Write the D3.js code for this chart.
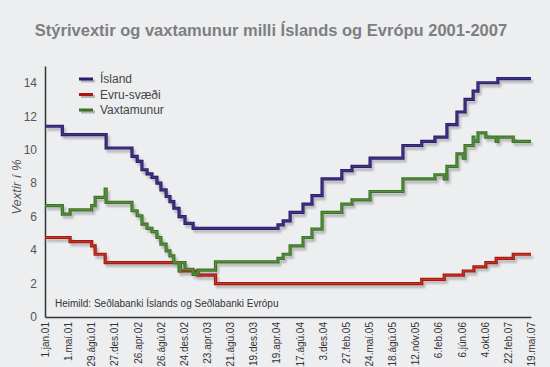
<!DOCTYPE html>
<html>
<head>
<meta charset="utf-8">
<script src="https://cdn.jsdelivr.net/npm/d3@7"></script>
<style>
  body { margin: 0; background: #edeef0; }
  svg { font-family: "Liberation Sans", Arial, sans-serif; }
</style>
</head>
<body>
<div id="chart"></div>
<script>
// tick positions on the category axis (equal spacing in the original)
var tickDates = ["2001-01-01","2001-05-01","2001-08-29","2001-12-27","2002-04-26","2002-08-26",
  "2002-12-24","2003-04-23","2003-08-21","2003-12-19","2004-04-19","2004-08-17","2004-12-03",
  "2005-02-27","2005-05-24","2005-08-18","2005-11-12","2006-02-06","2006-06-06","2006-10-04",
  "2007-02-22","2007-05-19"];
var tickLabels = ["1.jan.01","1.maí.01","29.ágú.01","27.des.01","26.apr.02","26.ágú.02",
  "24.des.02","23.apr.03","21.ágú.03","19.des.03","19.apr.04","17.ágú.04","3.des.04",
  "27.feb.05","24.maí.05","18.ágú.05","12.nóv.05","6.feb.06","6.jún.06","4.okt.06",
  "22.feb.07","19.maí.07"];

// Ísland - stýrivextir
var island = [
  ["2001-01-01",11.4],["2001-04-01",10.9],["2001-11-14",10.1],["2002-03-28",9.6],
  ["2002-04-24",9.3],["2002-05-19",8.8],["2002-06-15",8.55],["2002-07-11",8.35],
  ["2002-08-06",8.0],["2002-08-27",7.6],["2002-09-23",7.2],["2002-10-13",6.9],
  ["2002-11-02",6.5],["2002-11-29",6.0],["2002-12-30",5.6],["2003-02-10",5.3],
  ["2004-04-27",5.5],["2004-05-24",5.75],["2004-06-29",6.25],["2004-09-02",6.75],
  ["2004-10-14",7.25],["2004-11-30",8.25],["2005-02-12",8.75],["2005-03-22",9.0],
  ["2005-05-28",9.5],["2005-09-27",10.25],["2005-12-06",10.5],["2006-01-24",10.75],
  ["2006-03-22",11.5],["2006-05-13",12.25],["2006-06-24",13.0],["2006-08-05",13.5],
  ["2006-08-30",14.0],["2006-12-23",14.25],["2007-05-19",14.25]
];

// Evru-svæði
var euro = [
  ["2001-01-01",4.75],["2001-05-11",4.5],["2001-08-31",4.25],["2001-09-18",3.75],
  ["2001-11-09",3.25],["2002-12-06",2.75],["2003-03-07",2.5],["2003-06-06",2.0],
  ["2005-12-06",2.25],["2006-03-08",2.5],["2006-06-15",2.75],["2006-08-09",3.0],
  ["2006-10-11",3.25],["2006-12-13",3.5],["2007-03-14",3.75],["2007-05-19",3.75]
];

// Vaxtamunur
var spread = [
  ["2001-01-01",6.65],["2001-04-01",6.15],["2001-05-11",6.4],["2001-08-31",6.65],
  ["2001-09-18",7.15],["2001-11-09",7.65],["2001-11-14",6.85],["2002-03-28",6.35],
  ["2002-04-24",6.05],["2002-05-19",5.55],["2002-06-15",5.3],["2002-07-11",5.1],
  ["2002-08-06",4.75],["2002-08-27",4.35],["2002-09-23",3.95],["2002-10-13",3.65],
  ["2002-11-02",3.25],["2002-11-29",2.75],["2002-12-06",3.25],["2002-12-30",2.85],
  ["2003-02-10",2.55],["2003-03-07",2.8],["2003-06-06",3.3],["2004-04-27",3.5],
  ["2004-05-24",3.75],["2004-06-29",4.25],["2004-09-02",4.75],["2004-10-14",5.25],
  ["2004-11-30",6.25],["2005-02-12",6.75],["2005-03-22",7.0],["2005-05-28",7.5],
  ["2005-09-27",8.25],["2006-01-24",8.5],["2006-03-08",8.25],["2006-03-22",9.0],
  ["2006-05-13",9.75],["2006-06-15",9.5],["2006-06-24",10.25],["2006-08-05",10.75],
  ["2006-08-09",10.5],["2006-08-30",11.0],["2006-10-11",10.75],["2006-12-13",10.5],
  ["2006-12-23",10.75],["2007-03-14",10.5],["2007-05-19",10.5]
];

var yTicks = [0,2,4,6,8,10,12,14];

var svgWidth = 550, svgHeight = 367;
var plotLeft = 45, plotRight = 531, plotTop = 66, plotBottom = 317;

var parse = d3.timeParse("%Y-%m-%d");

var svg = d3.select("#chart").append("svg")
  .attr("width", svgWidth)
  .attr("height", svgHeight);

svg.append("rect").attr("width", svgWidth).attr("height", svgHeight).attr("fill", "#edeef0");

var defs = svg.append("defs");
defs.append("filter").attr("id", "blur")
  .append("feGaussianBlur").attr("stdDeviation", 0.8);

// piecewise time scale so that the category ticks are evenly spaced
var tickPos = tickDates.map(function(d, i) { return plotLeft + i * (plotRight - plotLeft) / (tickDates.length - 1); });
var x = d3.scaleTime()
  .domain(tickDates.map(parse))
  .range(tickPos);

var y = d3.scaleLinear()
  .domain([0, 15])
  .range([plotBottom, plotTop]);

//title
svg.append("text")
  .attr("x", 271).attr("y", 36)
  .attr("text-anchor", "middle")
  .style("font-size", "16.5px").style("font-weight", "bold")
  .style("fill", "#7d7e82")
  .text("Stýrivextir og vaxtamunur milli Íslands og Evrópu 2001-2007");

//axes
var yAxis = d3.axisLeft(y).tickValues(yTicks).tickSize(0).tickPadding(8);
var gy = svg.append("g").attr("transform", "translate(" + plotLeft + ",0)").call(yAxis);
gy.select(".domain").attr("stroke", "#333").attr("stroke-width", 1.5);
gy.selectAll("text").style("font-size", "12px").style("fill", "#555");

var xAxis = d3.axisBottom(x)
  .tickValues(tickDates.map(parse))
  .tickFormat(function(d, i) { return tickLabels[i]; })
  .tickSize(0);
var gx = svg.append("g").attr("transform", "translate(0," + plotBottom + ")").call(xAxis);
gx.select(".domain").attr("stroke", "#333").attr("stroke-width", 1.5);
gx.selectAll("text")
  .attr("transform", "rotate(-90)")
  .attr("x", -5).attr("y", 0).attr("dy", "0.35em")
  .style("text-anchor", "end")
  .style("font-size", "10px").style("fill", "#333");

svg.append("text")
  .attr("transform", "translate(21," + 187 + ") rotate(-90)")
  .attr("text-anchor", "middle")
  .style("font-size", "13px").style("font-style", "italic").style("fill", "#555")
  .text("Vextir í %");

//lines
var line = d3.line()
  .curve(d3.curveStepAfter)
  .x(function(d) { return x(parse(d[0])); })
  .y(function(d) { return y(d[1]); });

var series = [
  {name: "Ísland", data: island, color: "#2b1f6b", light: "#5a4ea0"},
  {name: "Evru-svæði", data: euro, color: "#a8160c", light: "#d85a48"},
  {name: "Vaxtamunur", data: spread, color: "#3b7424", light: "#74a85a"}
];

series.forEach(function(s) {
  svg.append("path").datum(s.data)
    .attr("d", line)
    .attr("transform", "translate(2,3)")
    .attr("fill", "none").attr("stroke", "#b4b5b9").attr("stroke-width", 3)
    .attr("filter", "url(#blur)");
});
series.forEach(function(s) {
  svg.append("path").datum(s.data)
    .attr("d", line)
    .attr("fill", "none").attr("stroke", s.color).attr("stroke-width", 3.2);
  svg.append("path").datum(s.data)
    .attr("d", line)
    .attr("fill", "none").attr("stroke", s.light).attr("stroke-width", 1).attr("opacity", 0.6);
});

//legend
var legend = svg.append("g");
series.forEach(function(s, i) {
  var ly = 79 + i * 15.5;
  legend.append("line").attr("x1", 81).attr("x2", 95).attr("y1", ly + 2).attr("y2", ly + 2)
    .attr("stroke", "#b4b5b9").attr("stroke-width", 3);
  legend.append("line").attr("x1", 79).attr("x2", 93).attr("y1", ly).attr("y2", ly)
    .attr("stroke", s.color).attr("stroke-width", 3);
  legend.append("text").attr("x", 100).attr("y", ly).attr("dy", "0.35em")
    .style("font-size", "12px").style("fill", "#444")
    .text(s.name);
});

svg.append("text")
  .attr("x", 55).attr("y", 307)
  .style("font-size", "10px").style("fill", "#333")
  .text("Heimild: Seðlabanki Íslands og Seðlabanki Evrópu");
</script>
</body>
</html>
